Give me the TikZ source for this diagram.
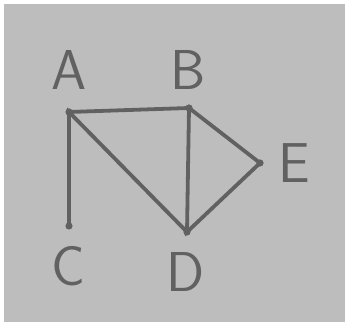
\documentclass[tikz,border=0pt]{standalone}
\usepackage{tikz}

\begin{document}
\begin{tikzpicture}
			\useasboundingbox (0,0) rectangle (8.725,8.15);
			\fill[white] (0,0) rectangle (8.725,8.15);
			\fill[black!26] (0.1,0.1) rectangle (8.625,8.05);
			\tikzset{pen/.style={line width=2.7pt, color=black!62, line cap=round},
			         lbl/.style={text=black!62, font=\fontsize{40}{40}\selectfont\sffamily}}
			\coordinate (A) at (1.725,5.35);
			\coordinate (B) at (4.725,5.45);
			\coordinate (C) at (1.725,2.5);
			\coordinate (D) at (4.675,2.35);
			\coordinate (E) at (6.5,4.075);
			\draw[pen] (A) -- (B) -- (E) -- (D) -- (B);
			\draw[pen] (C) -- (A) -- (D);
			\foreach \p in {A,B,C,D,E}
				\fill[black!62] (\p) circle (0.09);
			\node[lbl] (lA) at (1.725,6.4) {A};
			\node[lbl] (lB) at (4.7,6.4) {B};
			\node[lbl] (lC) at (1.7,1.5) {C};
			\node[lbl] (lD) at (4.65,1.35) {D};
			\node[lbl] (lE) at (7.35,4.075) {E};
		\end{tikzpicture}
\end{document}
